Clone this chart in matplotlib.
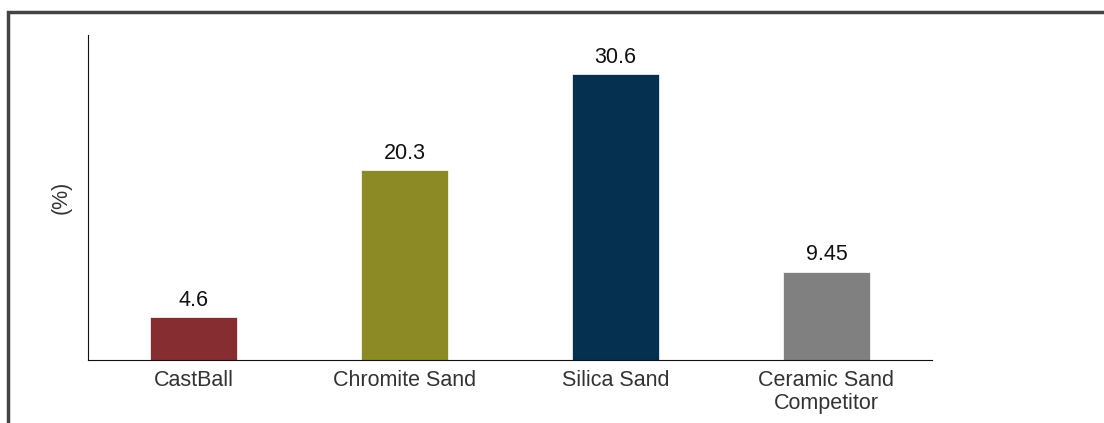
import matplotlib.pyplot as plt
from matplotlib.patches import Rectangle

plt.rcParams['font.family'] = ['Liberation Sans', 'DejaVu Sans']

# data
categories = ['CastBall', 'Chromite Sand', 'Silica Sand', 'Ceramic Sand\nCompetitor']
values = [4.6, 20.3, 30.6, 9.45]
labels = ['4.6', '20.3', '30.6', '9.45']
colors = ['#862D32', '#8B8A24', '#05304F', '#808080']

fig = plt.figure(figsize=(11.04, 4.23), dpi=100)

# dark frame round the figure (bottom and right run off the picture)
fig.patches.append(Rectangle((8 / 1104, -0.05), 1.1, 1 - 12 / 423 + 0.05,
                             transform=fig.transFigure, fill=False,
                             edgecolor='#444444', linewidth=2.5))

ax = fig.add_axes([88 / 1104, 1 - 360 / 423, 844 / 1104, 325 / 423])

x = range(len(categories))
bars = ax.bar(x, values, width=0.41, color=colors, edgecolor='white', linewidth=0.5)

for b, t in zip(bars, labels):
    ax.text(b.get_x() + b.get_width() / 2, b.get_height() + 0.7, t,
            ha='center', va='bottom', fontsize=15.5, color='#111111')

ax.set_xlim(-0.5, 3.5)
ax.set_ylim(0, 34.8)
ax.set_xticks(list(x))
ax.set_xticklabels(categories, fontsize=15.5, color='#333333', linespacing=1.12)
ax.set_yticks([])
ax.tick_params(axis='x', length=0, pad=7)
ax.set_ylabel('(%)', fontsize=15.5, color='#333333', labelpad=12)

ax.spines['top'].set_visible(False)
ax.spines['right'].set_visible(False)
ax.spines['left'].set_color('#111111')
ax.spines['bottom'].set_color('#111111')

fig.savefig('out.png', dpi=100)
